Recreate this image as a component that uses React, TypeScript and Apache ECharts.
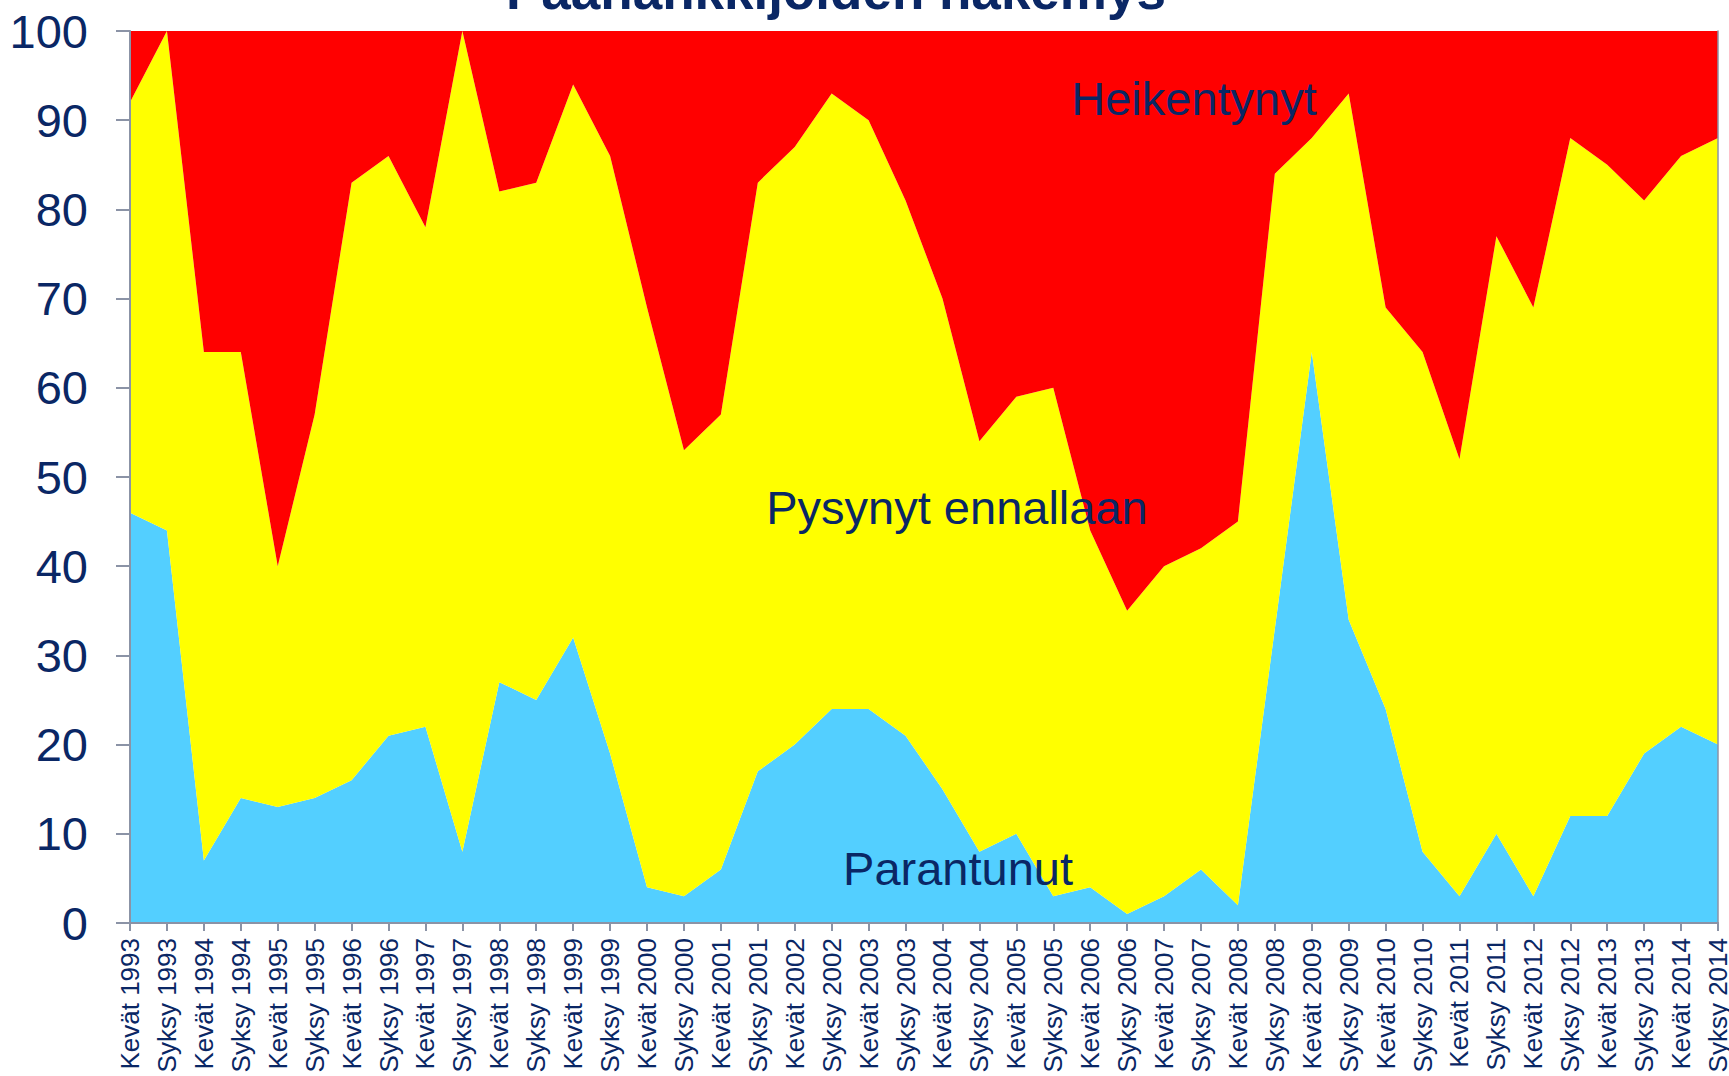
import React, { useEffect, useRef } from "react";
import * as echarts from "echarts";

const categories = [
  "Kevät 1993", "Syksy 1993", "Kevät 1994", "Syksy 1994", "Kevät 1995", "Syksy 1995",
  "Kevät 1996", "Syksy 1996", "Kevät 1997", "Syksy 1997", "Kevät 1998", "Syksy 1998",
  "Kevät 1999", "Syksy 1999", "Kevät 2000", "Syksy 2000", "Kevät 2001", "Syksy 2001",
  "Kevät 2002", "Syksy 2002", "Kevät 2003", "Syksy 2003", "Kevät 2004", "Syksy 2004",
  "Kevät 2005", "Syksy 2005", "Kevät 2006", "Syksy 2006", "Kevät 2007", "Syksy 2007",
  "Kevät 2008", "Syksy 2008", "Kevät 2009", "Syksy 2009", "Kevät 2010", "Syksy 2010",
  "Kevät 2011", "Syksy 2011", "Kevät 2012", "Syksy 2012", "Kevät 2013", "Syksy 2013",
  "Kevät 2014", "Syksy 2014",
];

const parantunut = [
  46, 44, 7, 14, 13, 14, 16, 21, 22, 8, 27, 25, 32, 19, 4, 3, 6, 17, 20, 24, 24, 21,
  15, 8, 10, 3, 4, 1, 3, 6, 2, 33, 64, 34, 24, 8, 3, 10, 3, 12, 12, 19, 22, 20,
];

const pysynyt = [
  46, 56, 57, 50, 27, 43, 67, 65, 56, 92, 55, 58, 62, 67, 65, 50, 51, 66, 67, 69, 66, 60,
  55, 46, 49, 57, 40, 34, 37, 36, 43, 51, 24, 59, 45, 56, 49, 67, 66, 76, 73, 62, 64, 68,
];

const heikentynyt = [
  8, 0, 36, 36, 60, 43, 17, 14, 22, 0, 18, 17, 6, 14, 31, 47, 43, 17, 13, 7, 10, 19,
  30, 46, 41, 40, 56, 65, 60, 58, 55, 16, 12, 7, 31, 36, 48, 23, 31, 12, 15, 19, 14, 12,
];

const seriesNames = ["Parantunut", "Pysynyt ennallaan", "Heikentynyt"];
const seriesColors = ["#53CFFF", "#FFFF00", "#FF0000"];
const titleText = "Päähankkijoiden näkemys";

const FONT = "'Liberation Sans', Arial, sans-serif";
const NAVY = "#0A2765";
const AXIS = "#8B93A6";

export default function App() {
  const ref = useRef<HTMLDivElement>(null);
  useEffect(() => {
    document.body.style.margin = "0";
    const chart = echarts.init(ref.current!, null, { renderer: "svg" });
    const dataSets = [parantunut, pysynyt, heikentynyt];
    chart.setOption({
      animation: false,
      backgroundColor: "#ffffff",
      grid: {
        left: 130,
        right: 11,
        top: 31,
        bottom: 153,
        containLabel: false,
        outerBoundsMode: "none",
      },
      xAxis: [
        {
          type: "category",
          data: categories,
          boundaryGap: false,
          axisLine: { show: true, lineStyle: { color: AXIS, width: 2 } },
          axisTick: { show: true, length: 8, lineStyle: { color: AXIS, width: 2 } },
          axisLabel: {
            rotate: 90,
            interval: 0,
            margin: 15,
            fontSize: 26,
            fontFamily: FONT,
            color: NAVY,
          },
          z: 10,
        },
        {
          type: "category",
          data: categories,
          boundaryGap: false,
          position: "top",
          axisLine: { show: true, lineStyle: { color: AXIS, width: 1.5 } },
          axisTick: { show: false },
          axisLabel: { show: false },
          z: 10,
        },
      ],
      yAxis: [
        {
          type: "value",
          min: 0,
          max: 100,
          interval: 10,
          axisLine: { show: true, lineStyle: { color: AXIS, width: 2 } },
          axisTick: { show: true, length: 14, lineStyle: { color: AXIS, width: 2 } },
          splitLine: { show: false },
          axisLabel: {
            margin: 42,
            fontSize: 47,
            fontFamily: FONT,
            color: NAVY,
          },
          z: 10,
        },
        {
          type: "value",
          min: 0,
          max: 100,
          interval: 10,
          position: "right",
          axisLine: { show: true, lineStyle: { color: AXIS, width: 1.5 } },
          axisTick: { show: false },
          axisLabel: { show: false },
          splitLine: { show: false },
          z: 10,
        },
      ],
      series: dataSets.map((d, i) => ({
        name: seriesNames[i],
        type: "line",
        stack: "total",
        data: d,
        symbol: "none",
        lineStyle: { width: 0 },
        areaStyle: { color: seriesColors[i], opacity: 1 },
        itemStyle: { color: seriesColors[i] },
      })),
      graphic: [
        {
          type: "text",
          x: 836,
          y: -10,
          style: {
            text: titleText,
            font: `bold 53px ${FONT}`,
            fill: NAVY,
            align: "center",
            verticalAlign: "middle",
          },
          z: 20,
        },
        {
          type: "text",
          x: 1194,
          y: 98,
          style: {
            text: seriesNames[2],
            font: `47px ${FONT}`,
            fill: NAVY,
            align: "center",
            verticalAlign: "middle",
          },
          z: 20,
        },
        {
          type: "text",
          x: 957,
          y: 507,
          style: {
            text: seriesNames[1],
            font: `47px ${FONT}`,
            fill: NAVY,
            align: "center",
            verticalAlign: "middle",
          },
          z: 20,
        },
        {
          type: "text",
          x: 958,
          y: 868,
          style: {
            text: seriesNames[0],
            font: `47px ${FONT}`,
            fill: NAVY,
            align: "center",
            verticalAlign: "middle",
          },
          z: 20,
        },
      ],
    });
    return () => chart.dispose();
  }, []);
  return <div ref={ref} style={{ width: 1729, height: 1076 }} />;
}
